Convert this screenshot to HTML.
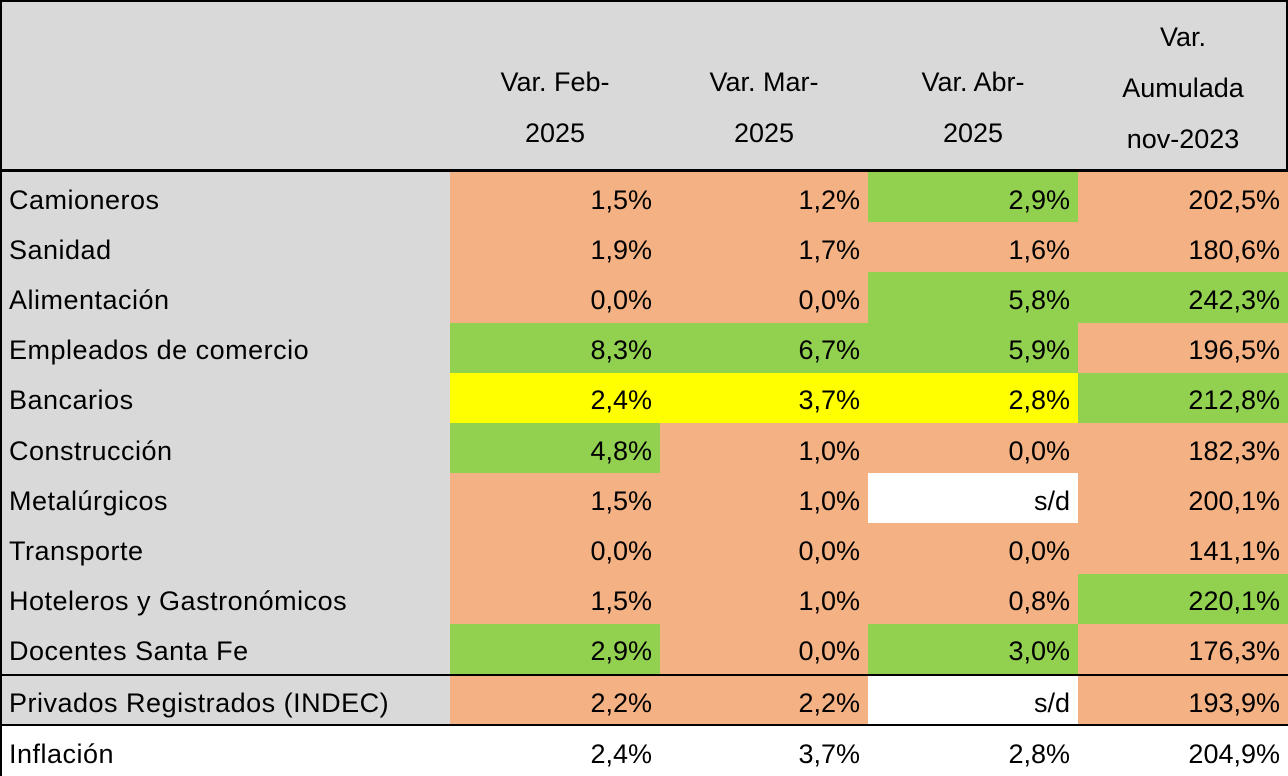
<!DOCTYPE html>
<html><head><meta charset="utf-8"><style>
body{margin:0;width:1288px;height:776px;overflow:hidden;background:#fff;font-family:"Liberation Sans",sans-serif;}
#t{position:relative;width:1288px;height:776px;}
.c{position:absolute;box-sizing:border-box;font-size:27px;color:#000;line-height:1;display:flex;align-items:center;}
.h{position:absolute;text-align:center;font-size:27px;line-height:51px;}
.ln{position:absolute;background:#000;}
</style></head><body>
<div id="t"></div>
<script>
const headers=[["Var. Feb-","2025"],["Var. Mar-","2025"],["Var. Abr-","2025"],["Var.","Aumulada","nov-2023"]];
const labels=["Camioneros","Sanidad","Alimentación","Empleados de comercio","Bancarios","Construcción","Metalúrgicos","Transporte","Hoteleros y Gastronómicos","Docentes Santa Fe","Privados Registrados (INDEC)","Inflación"];
const values=[["1,5%","1,2%","2,9%","202,5%"],["1,9%","1,7%","1,6%","180,6%"],["0,0%","0,0%","5,8%","242,3%"],["8,3%","6,7%","5,9%","196,5%"],["2,4%","3,7%","2,8%","212,8%"],["4,8%","1,0%","0,0%","182,3%"],["1,5%","1,0%","s/d","200,1%"],["0,0%","0,0%","0,0%","141,1%"],["1,5%","1,0%","0,8%","220,1%"],["2,9%","0,0%","3,0%","176,3%"],["2,2%","2,2%","s/d","193,9%"],["2,4%","3,7%","2,8%","204,9%"]];
const fills=[["o","o","g","o"],["o","o","o","o"],["o","o","g","g"],["g","g","g","o"],["y","y","y","g"],["g","o","o","o"],["o","o","w","o"],["o","o","o","o"],["o","o","o","g"],["g","o","g","o"],["o","o","w","o"],["w","w","w","w"]];
const col={o:"#f4b183",g:"#92d050",y:"#ffff00",w:"#ffffff",gr:"#d9d9d9"};
const t=document.getElementById('t');
const colX=[0,450,660,868,1078,1288];
const rowTop=[172,222.2,272.4,322.6,372.8,423,473.2,523.4,573.6,623.8,676,726];
const rowBot=[222.2,272.4,322.6,372.8,423,473.2,523.4,573.6,623.8,674,724,776];
function mk(cls){const d=document.createElement('div');d.className=cls;t.appendChild(d);return d;}
const hb=mk('c');hb.style.cssText='left:0;top:0;width:1288px;height:171px;background:#d9d9d9';


headers.forEach((h,i)=>{const d=mk('h');d.innerHTML=h.join('<br>');


const top=h.length===3?12:57;d.style.left=colX[i+1]+'px';d.style.width=(colX[i+2]-colX[i+1])+'px';d.style.top=top+'px';});
labels.forEach((l,r)=>{
 const y=rowTop[r],hgt=rowBot[r]-y;
 const d=mk('c');d.textContent=l;
 
 
 d.style.cssText+=`left:0;top:${y}px;width:450px;height:${hgt}px;padding-left:9px;padding-top:6px;background:${r===11?'#fff':col.gr};letter-spacing:0.5px`;
 values[r].forEach((v,c)=>{const e=mk('c');e.textContent=v;
  
  
  e.style.cssText+=`left:${colX[c+1]}px;top:${y}px;width:${colX[c+2]-colX[c+1]}px;height:${hgt}px;justify-content:flex-end;padding-right:8px;padding-top:6px;background:${col[fills[r][c]]}`;});
});
[[0,0,1288,2],[0,169,1288,3],[0,0,2,776],[1286,0,2,171],[0,674,1288,2],[0,724,1288,2]].forEach(a=>{const l=mk('ln');l.style.cssText=`left:${a[0]}px;top:${a[1]}px;width:${a[2]}px;height:${a[3]}px`;

});
</script>
</body></html>
